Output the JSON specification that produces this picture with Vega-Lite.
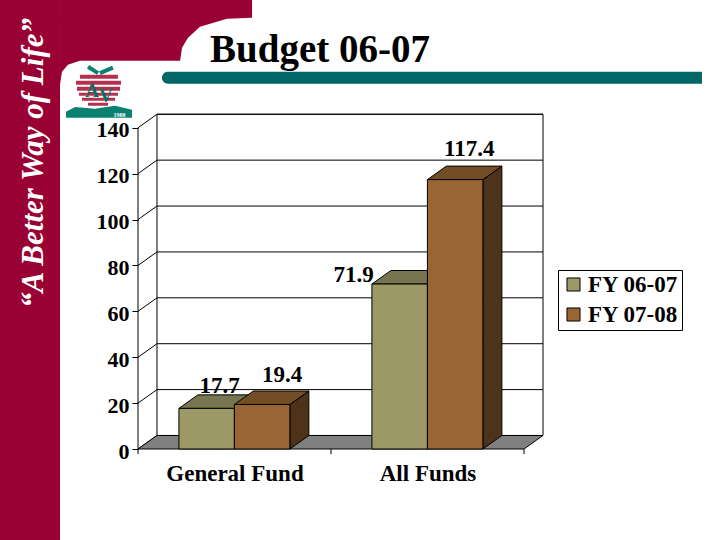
{
  "$schema": "https://vega.github.io/schema/vega-lite/v6.json",
  "autosize": {"type": "none"},
  "padding": {"left": 138, "top": 114, "right": 177, "bottom": 91},
  "width": 405,
  "height": 335,
  "background": "white",
  "config": {"view": {"stroke": null}},
  "datasets": {
    "budget": [
      {"fund": "General Fund", "series": "FY 06-07", "value": 17.7},
      {"fund": "General Fund", "series": "FY 07-08", "value": 19.4},
      {"fund": "All Funds", "series": "FY 06-07", "value": 71.9},
      {"fund": "All Funds", "series": "FY 07-08", "value": 117.4}
    ],
    "ticks": [
      {"tick": 0}, {"tick": 20}, {"tick": 40}, {"tick": 60},
      {"tick": 80}, {"tick": 100}, {"tick": 120}, {"tick": 140}
    ]
  },
  "encoding": {
    "x": {
      "field": "x",
      "type": "quantitative",
      "scale": {"domain": [0, 2.0984], "nice": false, "zero": false},
      "axis": {
        "title": null,
        "values": [0.5, 1.5],
        "labelExpr": "datum.value < 1 ? 'General Fund' : 'All Funds'",
        "domain": false,
        "ticks": false,
        "grid": false,
        "labelFont": "Liberation Serif",
        "labelFontWeight": "bold",
        "labelFontSize": 23,
        "labelColor": "black",
        "labelPadding": 13
      }
    },
    "y": {
      "field": "y",
      "type": "quantitative",
      "scale": {"domain": [0, 146], "nice": false, "zero": false},
      "axis": {
        "title": null,
        "values": [0, 20, 40, 60, 80, 100, 120, 140],
        "domain": false,
        "grid": false,
        "tickColor": "black",
        "tickSize": 6,
        "labelFont": "Liberation Serif",
        "labelFontWeight": "bold",
        "labelFontSize": 22,
        "labelColor": "black",
        "labelPadding": 3,
        "labelOffset": 2
      }
    }
  },
  "layer": [
    {
      "data": {"values": [{"x": -0.72, "x2": -0.404, "y": -42, "y2": 200}]},
      "mark": {"type": "rect", "color": "#990033"},
      "encoding": {"x2": {"field": "x2"}, "y2": {"field": "y2"}}
    },
    {
      "data": {"values": [
        {"x": -0.404, "y": 158.7, "y2": 200},
        {"x": -0.394, "y": 164.4, "y2": 200},
        {"x": -0.363, "y": 167.5, "y2": 200},
        {"x": -0.301, "y": 169.2, "y2": 200},
        {"x": 0.218, "y": 169.2, "y2": 200},
        {"x": 0.228, "y": 174.9, "y2": 200},
        {"x": 0.259, "y": 179.2, "y2": 200},
        {"x": 0.321, "y": 184.0, "y2": 200},
        {"x": 0.461, "y": 187.5, "y2": 200},
        {"x": 0.591, "y": 188.0, "y2": 200}
      ]},
      "mark": {"type": "area", "color": "#990033"},
      "encoding": {"y2": {"field": "y2"}}
    },
    {
      "data": {"values": [{"x": -0.492, "y": 61.5, "text": "“A Better Way of Life”"}]},
      "mark": {"type": "text", "angle": 270, "align": "left", "baseline": "alphabetic", "font": "Liberation Serif", "fontWeight": "bold", "fontStyle": "italic", "fontSize": 31, "color": "white"},
      "encoding": {"text": {"field": "text"}}
    },
    {
      "data": {"values": [{"x": 0.373, "y": 168.8, "text": "Budget 06-07"}]},
      "mark": {"type": "text", "align": "left", "baseline": "alphabetic", "font": "Liberation Serif", "fontWeight": "bold", "fontSize": 39, "color": "black"},
      "encoding": {"text": {"field": "text"}}
    },
    {
      "data": {"values": [{"x": 0.124, "x2": 2.922, "y": 159.2, "y2": 164.4}]},
      "mark": {"type": "rect", "color": "#006666", "cornerRadiusTopLeft": 6, "cornerRadiusBottomLeft": 6},
      "encoding": {"x2": {"field": "x2"}, "y2": {"field": "y2"}}
    },
    {
      "data": {"values": [
        {"x": -0.301, "x2": -0.104, "y": 161.4, "y2": 163.1},
        {"x": -0.321, "x2": -0.088, "y": 158.7, "y2": 160.5},
        {"x": -0.316, "x2": -0.093, "y": 156.1, "y2": 157.9},
        {"x": -0.306, "x2": -0.104, "y": 153.9, "y2": 155.3},
        {"x": -0.290, "x2": -0.119, "y": 151.8, "y2": 153.1},
        {"x": -0.259, "x2": -0.155, "y": 149.6, "y2": 150.9}
      ]},
      "mark": {"type": "rect", "color": "#b5304f"},
      "encoding": {"x2": {"field": "x2"}, "y2": {"field": "y2"}}
    },
    {
      "data": {"values": [
        {"x": -0.373, "y": 144.4, "y2": 147.0},
        {"x": -0.326, "y": 144.4, "y2": 149.1},
        {"x": -0.223, "y": 144.4, "y2": 148.3},
        {"x": -0.119, "y": 144.4, "y2": 149.6},
        {"x": -0.031, "y": 144.4, "y2": 147.8}
      ]},
      "mark": {"type": "area", "color": "#0a8070"},
      "encoding": {"y2": {"field": "y2"}}
    },
    {
      "data": {"values": [
        {"x": -0.259, "x2": -0.207, "y": 166.6, "y2": 163.8},
        {"x": -0.197, "x2": -0.130, "y": 163.8, "y2": 166.2}
      ]},
      "mark": {"type": "rule", "color": "#0a8070", "strokeWidth": 4},
      "encoding": {"x2": {"field": "x2"}, "y2": {"field": "y2"}}
    },
    {
      "data": {"values": [
        {"x": -0.238, "y": 153.5, "text": "A"},
        {"x": -0.166, "y": 151.3, "text": "V"}
      ]},
      "mark": {"type": "text", "baseline": "alphabetic", "font": "Liberation Serif", "fontWeight": "bold", "fontSize": 19, "color": "#0a7060"},
      "encoding": {"text": {"field": "text"}}
    },
    {
      "data": {"values": [{"x": -0.096, "y": 144.8, "text": "1988"}]},
      "mark": {"type": "text", "baseline": "alphabetic", "font": "Liberation Serif", "fontWeight": "bold", "fontSize": 6, "color": "white"},
      "encoding": {"text": {"field": "text"}}
    },
    {
      "data": {"values": [{"x": 0.0984, "x2": 2.0984, "y": 5.89, "y2": 145.89}]},
      "mark": {"type": "rect", "fill": "white", "stroke": "black", "strokeWidth": 1},
      "encoding": {"x2": {"field": "x2"}, "y2": {"field": "y2"}}
    },
    {
      "data": {"name": "ticks"},
      "transform": [
        {"calculate": "0.0984", "as": "x"},
        {"calculate": "2.0984", "as": "x2"},
        {"calculate": "datum.tick + 5.89", "as": "y"}
      ],
      "mark": {"type": "rule", "color": "black", "strokeWidth": 1},
      "encoding": {"x2": {"field": "x2"}}
    },
    {
      "data": {"name": "ticks"},
      "transform": [
        {"calculate": "0", "as": "x"},
        {"calculate": "0.0984", "as": "x2"},
        {"calculate": "datum.tick", "as": "y"},
        {"calculate": "datum.tick + 5.89", "as": "y2"}
      ],
      "mark": {"type": "rule", "color": "black", "strokeWidth": 1},
      "encoding": {"x2": {"field": "x2"}, "y2": {"field": "y2"}}
    },
    {
      "data": {"values": [{"x": 0, "y": 0, "y2": 140}]},
      "mark": {"type": "rule", "color": "black", "strokeWidth": 1},
      "encoding": {"y2": {"field": "y2"}}
    },
    {
      "data": {"values": [
        {"x": 0, "y": 0, "y2": 0},
        {"x": 0.0984, "y": 0, "y2": 5.89},
        {"x": 2, "y": 0, "y2": 5.89},
        {"x": 2.0984, "y": 5.89, "y2": 5.89}
      ]},
      "mark": {"type": "area", "fill": "#808080", "stroke": "black", "strokeWidth": 1},
      "encoding": {"y2": {"field": "y2"}}
    },
    {
      "data": {"values": [{"x": 0, "y": 0, "y2": -2.2}, {"x": 1, "y": 0, "y2": -2.2}, {"x": 2, "y": 0, "y2": -2.2}]},
      "mark": {"type": "rule", "color": "black", "strokeWidth": 1},
      "encoding": {"y2": {"field": "y2"}}
    },
    {
      "data": {"name": "budget"},
      "transform": [
        {"calculate": "(datum.fund === 'All Funds' ? 1 : 0) + (datum.series === 'FY 07-08' ? 0.4995 : 0.212) + 0.1437", "as": "x"},
        {"calculate": "datum.value + 5.89", "as": "y"}
      ],
      "mark": {
        "type": "text",
        "baseline": "alphabetic",
        "font": "Liberation Serif",
        "fontWeight": "bold",
        "fontSize": 23,
        "color": "black",
        "dx": {"expr": "{'17.7': 13, '19.4': 20, '71.9': -46, '117.4': 14}[datum.value]"},
        "dy": {"expr": "{'17.7': -2, '19.4': -9, '71.9': 11, '117.4': -10}[datum.value]"}
      },
      "encoding": {"text": {"field": "value", "type": "quantitative", "format": ".1f"}}
    },
    {
      "data": {"name": "budget"},
      "transform": [
        {"calculate": "(datum.fund === 'All Funds' ? 1 : 0) + (datum.series === 'FY 07-08' ? 0.4995 : 0.212) + 0.2875", "as": "right"},
        {"calculate": "[0, 1]", "as": "k"},
        {"flatten": ["k"]},
        {"calculate": "datum.right + datum.k * 0.0984", "as": "x"},
        {"calculate": "datum.k * 5.89", "as": "y"},
        {"calculate": "datum.value + datum.k * 5.89", "as": "y2"},
        {"calculate": "datum.series === 'FY 07-08' ? '#4d3319' : '#4d4d33'", "as": "shade"},
        {"calculate": "datum.fund + datum.series", "as": "bar"}
      ],
      "mark": {"type": "area", "stroke": "black", "strokeWidth": 1},
      "encoding": {
        "y2": {"field": "y2"},
        "fill": {"field": "shade", "type": "nominal", "scale": null},
        "detail": {"field": "bar"}
      }
    },
    {
      "data": {"name": "budget"},
      "transform": [
        {"calculate": "(datum.fund === 'All Funds' ? 1 : 0) + (datum.series === 'FY 07-08' ? 0.4995 : 0.212)", "as": "left"},
        {"calculate": "[0, 1, 2, 3]", "as": "k"},
        {"flatten": ["k"]},
        {"calculate": "datum.left + [0, 0.0984, 0.2875, 0.3859][datum.k]", "as": "x"},
        {"calculate": "datum.value + [0, 0, 0, 5.89][datum.k]", "as": "y"},
        {"calculate": "datum.value + [0, 5.89, 5.89, 5.89][datum.k]", "as": "y2"},
        {"calculate": "datum.series === 'FY 07-08' ? '#734d26' : '#77754f'", "as": "shade"},
        {"calculate": "datum.fund + datum.series", "as": "bar"}
      ],
      "mark": {"type": "area", "stroke": "black", "strokeWidth": 1},
      "encoding": {
        "y2": {"field": "y2"},
        "fill": {"field": "shade", "type": "nominal", "scale": null},
        "detail": {"field": "bar"}
      }
    },
    {
      "data": {"name": "budget"},
      "transform": [
        {"calculate": "(datum.fund === 'All Funds' ? 1 : 0) + (datum.series === 'FY 07-08' ? 0.4995 : 0.212)", "as": "x"},
        {"calculate": "datum.x + 0.2875", "as": "x2"},
        {"calculate": "datum.value", "as": "y"},
        {"calculate": "0", "as": "y2"}
      ],
      "mark": {"type": "rect", "stroke": "black", "strokeWidth": 1},
      "encoding": {
        "x2": {"field": "x2"},
        "y2": {"field": "y2"},
        "color": {
          "field": "series",
          "type": "nominal",
          "scale": {"domain": ["FY 06-07", "FY 07-08"], "range": ["#9c9966", "#996633"]},
          "legend": {
            "title": null,
            "orient": "none",
            "legendX": 420,
            "legendY": 156,
            "fillColor": "white",
            "strokeColor": "black",
            "padding": 3,
            "symbolType": "square",
            "symbolSize": 170,
            "symbolOffset": 1,
            "symbolStrokeColor": "black",
            "symbolStrokeWidth": 1,
            "labelFont": "Liberation Serif",
            "labelFontWeight": "bold",
            "labelFontSize": 23,
            "labelColor": "black",
            "labelOffset": 3,
            "rowPadding": 6
          }
        }
      }
    }
  ]
}
